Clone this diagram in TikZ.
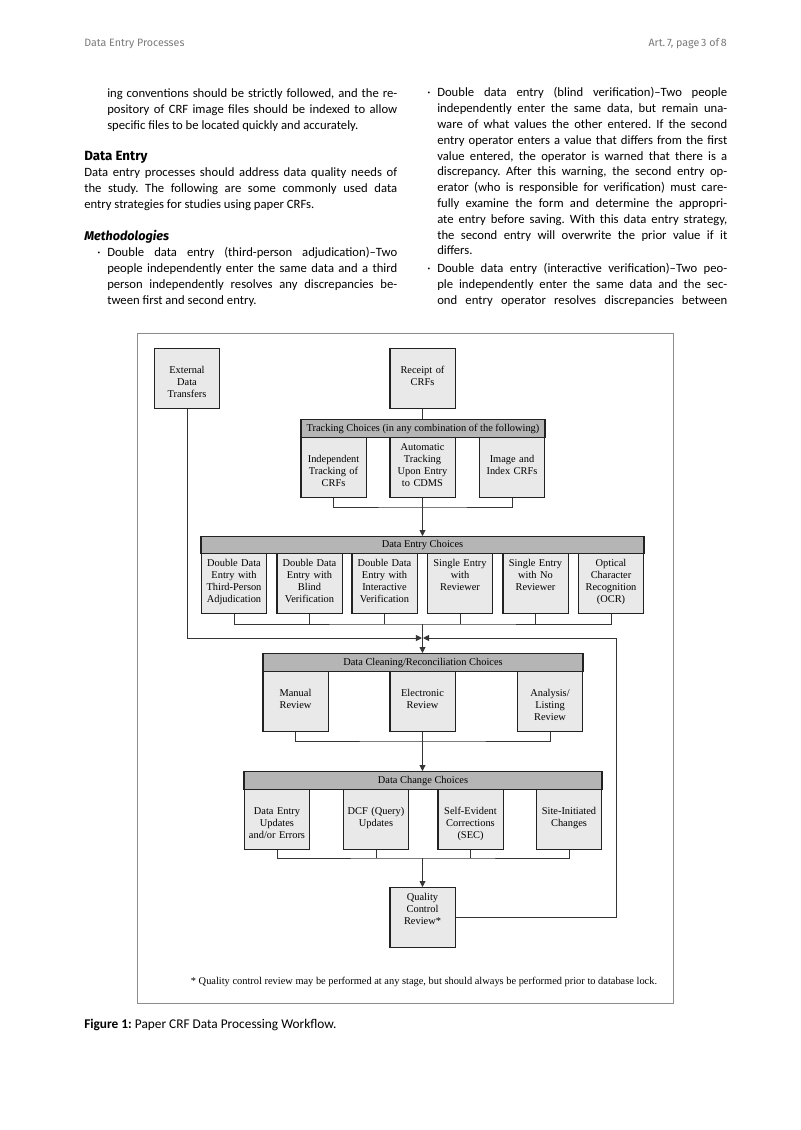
\documentclass[tikz,border=0pt]{standalone}
\usepackage{fontspec}
\setmainfont{Carlito}
\newfontfamily\figfont{Liberation Serif}
\newfontfamily\headfont{Fira Sans}
\usetikzlibrary{arrows.meta}
\frenchspacing

\definecolor{boxfill}{HTML}{E9E9E9}
\definecolor{headfill}{HTML}{B5B5B5}
\definecolor{boxline}{HTML}{222222}
\definecolor{lineclr}{HTML}{363636}
\definecolor{frameclr}{HTML}{8C8C8C}
\definecolor{runclr}{HTML}{7A7A7A}

\newcommand\bodyfmt{\fontsize{9.5}{11.85}\selectfont\tolerance=10000\hyphenpenalty=10000}
\newcommand\boxfmt{\figfont\fontsize{7.8}{9}\selectfont}

\begin{document}
\begin{tikzpicture}
[x=0.75pt,y=-0.75pt,
  runDecorate/.style={inner sep=0pt,font=\headfont\fontsize{8}{10}\selectfont,text=runclr},
  paraDecorate/.style={anchor=base west,inner sep=0pt,align=justify,font=\bodyfmt},
  headDecorate/.style={anchor=base west,inner sep=0pt,font=\headfont\bfseries\fontsize{10}{12}\selectfont},
  boxBase/.style={draw=boxline,fill=boxfill,line width=1pt,inner sep=0pt,
    text width=49pt,align=center,font=\boxfmt,anchor=north},
  boxTop/.style={boxBase,text height=9.75pt,text depth=35.25pt},
  boxMid/.style={boxBase,text height=18.4pt,text depth=26.6pt},
  barDecorate/.style={draw=boxline,fill=headfill,line width=1pt,inner sep=0pt,
    minimum height=13.5pt,anchor=north,font=\boxfmt},
  lineDecorate/.style={draw=lineclr,line width=0.7pt},
  arrowDecorate/.style={lineDecorate,-{Triangle[length=4.5pt,width=4.5pt]}}]
\fill[white] (0,0) rectangle (800,1130);
\useasboundingbox (0,0) rectangle (800,1130);
%% page text
\node[runDecorate,anchor=base west] (runLeft) at (84,47) {Data Entry Processes};
\node[runDecorate,anchor=base east] (runRight) at (727,47) {Art.\,7, page\,3 of\,8};
\node[paraDecorate,text width=217.5pt] (paraOne) at (107,98)
  {ing conventions should be strictly followed, and the re-\linebreak
   pository of CRF image files should be indexed to allow\linebreak
   specific files to be located quickly and accurately.};
\node[headDecorate] (secEntry) at (84,161) {Data Entry};
\node[paraDecorate,text width=234.75pt] (paraTwo) at (84,177)
  {Data entry processes should address data quality needs of\linebreak
   the study. The following are some commonly used data\linebreak
   entry strategies for studies using paper CRFs.};
\node[headDecorate,font=\headfont\bfseries\itshape\fontsize{9.5}{12}\selectfont] (secMethod) at (84,241) {Methodologies};
\node[paraDecorate,text width=217.5pt] (itemThird) at (107,257)
  {\llap{·\hspace{5pt}}Double data entry (third-person adjudication)–Two\linebreak
   people independently enter the same data and a third\linebreak
   person independently resolves any discrepancies be-\linebreak
   tween first and second entry.};
\node[paraDecorate,text width=217.5pt] (itemBlind) at (437,97)
  {\llap{·\hspace{5pt}}Double data entry (blind verification)–Two people\linebreak
   independently enter the same data, but remain una-\linebreak
   ware of what values the other entered. If the second\linebreak
   entry operator enters a value that differs from the first\linebreak
   value entered, the operator is warned that there is a\linebreak
   discrepancy. After this warning, the second entry op-\linebreak
   erator (who is responsible for verification) must care-\linebreak
   fully examine the form and determine the appropri-\linebreak
   ate entry before saving. With this data entry strategy,\linebreak
   the second entry will overwrite the prior value if it\linebreak
   differs.};
\node[paraDecorate,text width=217.5pt] (itemInter) at (437,273)
  {\parfillskip=0pt\llap{·\hspace{5pt}}Double data entry (interactive verification)–Two peo-\linebreak
   ple independently enter the same data and the sec-\linebreak
   ond entry operator resolves discrepancies between\par};
%% figure frame
\draw[draw=frameclr,line width=0.6pt] (137,333) rectangle (673,1003);
%% boxes
\node[boxMid] (ext) at (187,348) {External\\Data\\Transfers};
\node[boxMid] (rec) at (422.5,348) {Receipt of\\CRFs};
\node[barDecorate,minimum width=183pt] (trkHead) at (423,419) {Tracking Choices (in any combination of the following)};
\node[boxMid] (trkA) at (333.5,437) {Independent\\Tracking of\\CRFs};
\node[boxTop] (trkB) at (422.5,437) {Automatic\\Tracking\\Upon Entry\\to CDMS};
\node[boxMid] (trkC) at (512,437) {Image and\\Index CRFs};
\node[barDecorate,minimum width=332.25pt,minimum height=12.75pt] (decHead) at (422.5,536) {Data Entry Choices};
\foreach \nodename/\x/\txt in {decA/234/{Double Data\\Entry with\\Third-Person\\Adjudication},
  decB/309.5/{Double Data\\Entry with\\Blind\\Verification},
  decC/384.5/{Double Data\\Entry with\\Interactive\\Verification},
  decD/460/{Single Entry\\with\\Reviewer},
  decE/535.5/{Single Entry\\with No\\Reviewer},
  decF/611/{Optical\\Character\\Recognition\\(OCR)}}
{
  \node[boxTop] (\nodename) at (\x,553) {\txt};
}
\node[barDecorate,minimum width=240pt] (clnHead) at (423,653) {Data Cleaning/Reconciliation Choices};
\foreach \nodename/\x/\txt in {clnA/295.5/{Manual\\Review}, clnB/422.5/{Electronic\\Review},
  clnC/550/{Analysis/\\Listing\\Review}}
{
  \node[boxMid] (\nodename) at (\x,671) {\txt};
}
\node[barDecorate,minimum width=268.5pt] (chgHead) at (423,771) {Data Change Choices};
\foreach \nodename/\x/\txt in {chgA/277/{Data Entry\\Updates\\and/or Errors}, chgB/376/{DCF (Query)\\Updates},
  chgC/470.5/{Self-Evident\\Corrections\\(SEC)}, chgD/569/{Site-Initiated\\Changes}}
{
  \node[boxMid] (\nodename) at (\x,789) {\txt};
}
\node[boxTop] (qc) at (422.5,887) {Quality\\Control\\Review*};
\node[anchor=base,inner sep=0pt,font=\boxfmt] (note) at (424,984)
  {* Quality control review may be performed at any stage, but should always be performed prior to database lock.};
\node[anchor=base west,inner sep=0pt,font=\fontsize{10}{12}\selectfont] (caption) at (84,1028)
  {\textbf{Figure 1:} Paper CRF Data Processing Workflow.};
%% connectors
\coordinate (trkJoin) at (422.5,507);
\coordinate (decJoin) at (422.5,624);
\coordinate (merge) at (422.5,638);
\coordinate (loopBack) at (616,638);
\coordinate (clnJoin) at (422.5,741);
\coordinate (chgJoin) at (422.5,858);
\draw[lineDecorate] (rec.south) -- (rec.south |- trkHead.north);
\draw[lineDecorate] (trkA.south) |- (trkJoin) -| (trkC.south);
\draw[lineDecorate] (trkB.south) -- (trkJoin);
\draw[arrowDecorate] (trkJoin) -- (trkJoin |- decHead.north);
\draw[lineDecorate] (decA.south) |- (decJoin) -| (decF.south);
\foreach \nodename in {decB,decC,decD,decE}
{
  \draw[lineDecorate] (\nodename.south) -- (\nodename.south |- decJoin);
}
\draw[arrowDecorate] (decJoin) -- (decJoin |- clnHead.north);
\draw[arrowDecorate,shorten >=0.4pt] (ext.south) |- (merge);
\draw[arrowDecorate,shorten >=0.4pt] (qc.east) -| (loopBack) -- (merge);
\draw[lineDecorate] (clnA.south) |- (clnJoin) -| (clnC.south);
\draw[lineDecorate] (clnB.south) -- (clnJoin);
\draw[arrowDecorate] (clnJoin) -- (clnJoin |- chgHead.north);
\draw[lineDecorate] (chgA.south) |- (chgJoin) -| (chgD.south);
\foreach \nodename in {chgB,chgC}
{
  \draw[lineDecorate] (\nodename.south) -- (\nodename.south |- chgJoin);
}
\draw[arrowDecorate] (chgJoin) -- (qc.north);
\end{tikzpicture}
\end{document}
